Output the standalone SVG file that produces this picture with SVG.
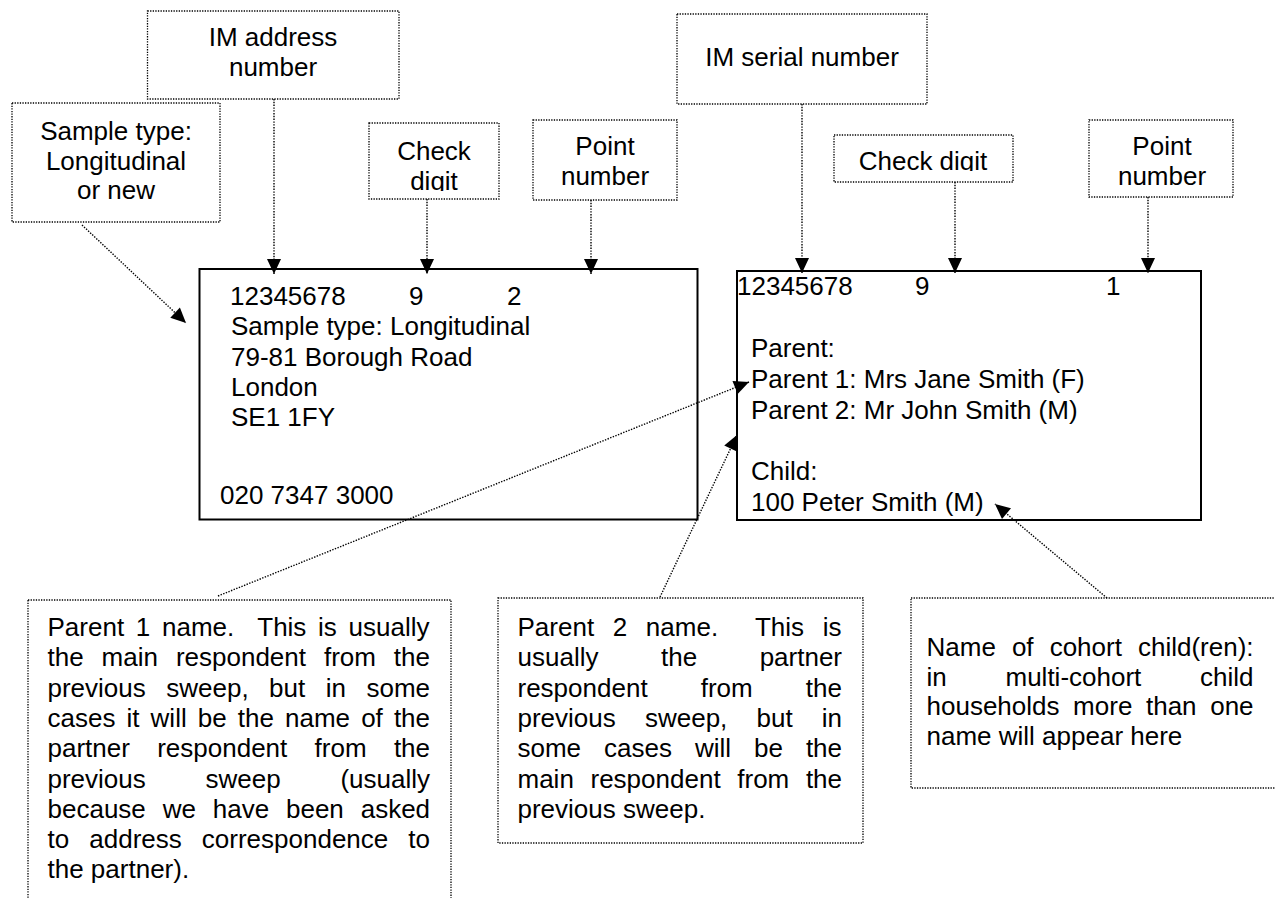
<svg xmlns="http://www.w3.org/2000/svg" width="1275" height="898" viewBox="0 0 1275 898">
<defs>
<marker id="ah" markerUnits="userSpaceOnUse" markerWidth="15" markerHeight="14" refX="15" refY="7" orient="auto" overflow="visible"><path d="M0,0 L15,7 L0,14 z" fill="#000"/></marker>
<clipPath id="clipCD1"><rect x="369" y="123" width="130" height="68"/></clipPath>
<clipPath id="clipCD2"><rect x="834" y="135" width="179" height="36"/></clipPath>
</defs>
<style>
.t{font-family:"Liberation Sans",Arial,sans-serif;font-size:26px;fill:#000}
.c{text-anchor:middle}
.pre{white-space:pre}
.dot{fill:none;stroke:#000;stroke-width:1.3;stroke-dasharray:1.3 1.3}
.solid{fill:none;stroke:#000;stroke-width:2}
.conn{fill:none;stroke:#000;stroke-width:1.4;stroke-dasharray:1.4 1.4;marker-end:url(#ah)}
</style>
<rect width="1275" height="898" fill="#fff"/>

<g id="label-im-address">
<rect class="dot" x="147.5" y="11" width="251.5" height="88"/>
<text class="t c" x="273" y="46">IM address</text>
<text class="t c" x="273" y="75.5">number</text>
</g>
<g id="label-sample-type">
<rect class="dot" x="12" y="103" width="208" height="119"/>
<text class="t c" x="116" y="140">Sample type:</text>
<text class="t c" x="116" y="169.5">Longitudinal</text>
<text class="t c" x="116" y="199">or new</text>
</g>
<g id="label-check-digit-1">
<rect class="dot" x="369" y="123" width="130" height="76"/>
<g clip-path="url(#clipCD1)">
<text class="t c" x="434" y="160">Check</text>
<text class="t c" x="434" y="190">digit</text>
</g>
</g>
<g id="label-point-number-1">
<rect class="dot" x="533" y="120" width="144" height="80"/>
<text class="t c" x="605" y="155">Point</text>
<text class="t c" x="605" y="185">number</text>
</g>
<g id="label-im-serial">
<rect class="dot" x="677" y="14" width="250" height="90"/>
<text class="t c" x="802" y="65.5">IM serial number</text>
</g>
<g id="label-check-digit-2">
<rect class="dot" x="834" y="135" width="179" height="47"/>
<g clip-path="url(#clipCD2)">
<text class="t c" x="923" y="170">Check digit</text>
</g>
</g>
<g id="label-point-number-2">
<rect class="dot" x="1089" y="120" width="144" height="77"/>
<text class="t c" x="1162" y="155">Point</text>
<text class="t c" x="1162" y="185">number</text>
</g>

<g id="address-label">
<rect class="solid" x="199.5" y="269" width="498" height="250.5"/>
<text class="t" x="230" y="305">12345678</text>
<text class="t" x="409" y="305">9</text>
<text class="t" x="507" y="305">2</text>
<text class="t" x="231" y="335">Sample type: Longitudinal</text>
<text class="t" x="231" y="365.5">79-81 Borough Road</text>
<text class="t" x="231" y="396">London</text>
<text class="t" x="231" y="426">SE1 1FY</text>
<text class="t" x="220" y="504">020 7347 3000</text>
</g>

<g id="names-label">
<rect class="solid" x="737" y="271" width="464" height="249"/>
<text class="t" x="737" y="295">12345678</text>
<text class="t" x="915" y="295">9</text>
<text class="t" x="1106" y="295">1</text>
<text class="t" x="751" y="357">Parent:</text>
<text class="t" x="751" y="388">Parent 1: Mrs Jane Smith (F)</text>
<text class="t" x="751" y="418.5">Parent 2: Mr John Smith (M)</text>
<text class="t" x="751" y="480">Child:</text>
<text class="t" x="751" y="510.5">100 Peter Smith (M)</text>
</g>

<g id="note-parent-1">
<rect class="dot" x="28" y="600" width="423" height="320"/>
<text class="t pre" x="47.5" y="636" word-spacing="4.5">Parent 1 name.  This is usually</text>
<text class="t" x="47.5" y="666.3" word-spacing="10.72">the main respondent from the</text>
<text class="t" x="47.5" y="696.6" word-spacing="13.26">previous sweep, but in some</text>
<text class="t" x="47.5" y="726.9" word-spacing="3.86">cases it will be the name of the</text>
<text class="t" x="47.5" y="757.2" word-spacing="20.08">partner respondent from the</text>
<text class="t" x="47.5" y="787.5" word-spacing="52.54">previous sweep (usually</text>
<text class="t" x="47.5" y="817.8" word-spacing="9.63">because we have been asked</text>
<text class="t" x="47.5" y="848.1" word-spacing="12.85">to address correspondence to</text>
<text class="t" x="47.5" y="878.4">the partner).</text>
</g>

<g id="note-parent-2">
<rect class="dot" x="498" y="598" width="365" height="245"/>
<text class="t pre" x="517.5" y="636" word-spacing="11.43">Parent 2 name.  This is</text>
<text class="t" x="517.5" y="666.3" word-spacing="55.31">usually the partner</text>
<text class="t" x="517.5" y="696.6" word-spacing="45.91">respondent from the</text>
<text class="t" x="517.5" y="726.9" word-spacing="21.94">previous sweep, but in</text>
<text class="t" x="517.5" y="757.2" word-spacing="15.74">some cases will be the</text>
<text class="t" x="517.5" y="787.5" word-spacing="9.42">main respondent from the</text>
<text class="t" x="517.5" y="817.8">previous sweep.</text>
</g>

<g id="note-child">
<rect class="dot" x="911" y="598" width="400" height="190"/>
<text class="t" x="926.5" y="656" word-spacing="8.82">Name of cohort child(ren):</text>
<text class="t" x="926.5" y="685.5" word-spacing="51.53">in multi-cohort child</text>
<text class="t" x="926.5" y="715" word-spacing="6.39">households more than one</text>
<text class="t" x="926.5" y="744.5">name will appear here</text>
</g>

<g id="connectors">
<path class="conn" d="M274,99 V274"/>
<path class="conn" d="M427,199 V274"/>
<path class="conn" d="M591,200 V274"/>
<path class="conn" d="M802,104 V273"/>
<path class="conn" d="M955,182 V273"/>
<path class="conn" d="M1148,197 V273"/>
<path class="conn" d="M82,225 L186,323"/>
<path class="conn" d="M218,596 L749,382"/>
<path class="conn" d="M660,597 L737,435"/>
<path class="conn" d="M1107,598 L995,504"/>
</g>
</svg>
